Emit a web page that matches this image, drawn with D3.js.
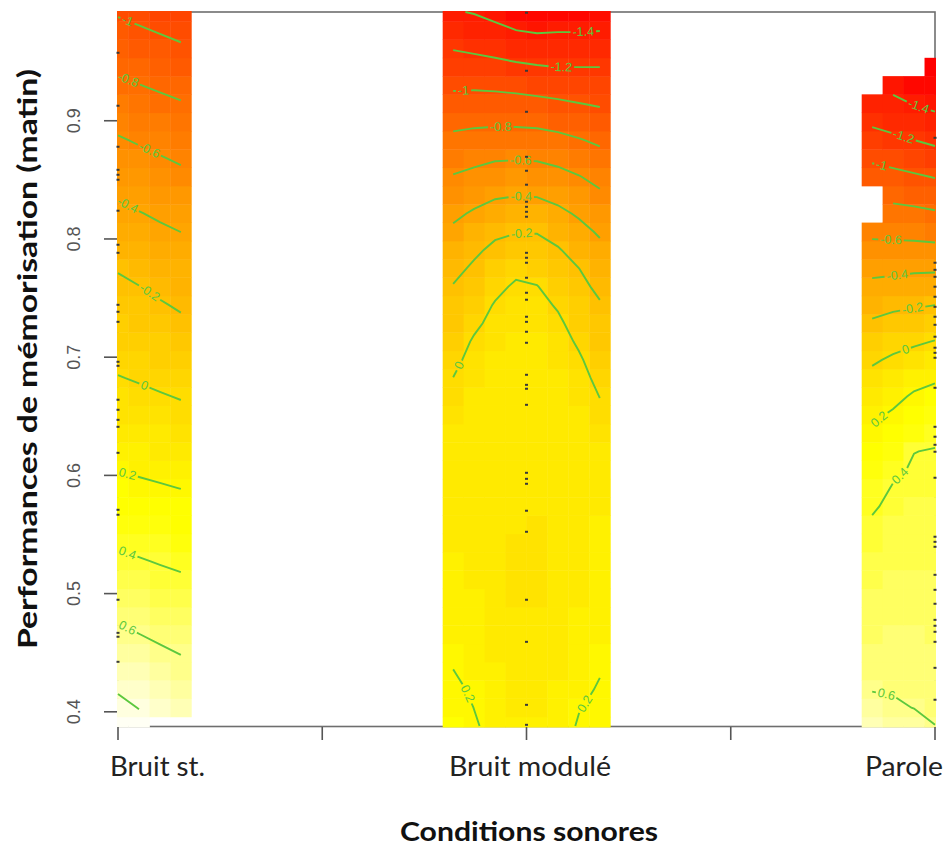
<!DOCTYPE html>
<html><head><meta charset="utf-8">
<script src="https://cdn.jsdelivr.net/npm/d3@7"></script>
<style>body{margin:0;background:#fff} svg{display:block}</style>
</head><body>
<svg id="chart" width="944" height="846"></svg>
<script>
// ---------------- data ----------------
const categories = ["Bruit st.", "Bruit modulé", "Parole"];
const categoryCodes = [1, 2, 3];
const xTicks = [1, 1.5, 2, 2.5, 3];
const yTicks = [0.4, 0.5, 0.6, 0.7, 0.8, 0.9];
const xTitle = "Conditions sonores";
const yTitle = "Performances de mémorisation (matin)";

// evaluation grid (rows bottom -> top)
const yGrid = [0.3880,0.4035,0.4190,0.4345,0.4499,0.4654,0.4809,0.4964,0.5119,0.5274,
  0.5429,0.5584,0.5738,0.5893,0.6048,0.6203,0.6358,0.6513,0.6668,0.6822,
  0.6977,0.7132,0.7287,0.7442,0.7597,0.7752,0.7907,0.8061,0.8216,0.8371,
  0.8526,0.8681,0.8836,0.8991,0.9146,0.9300,0.9455,0.9610,0.9765,0.9920];
const xGridBruitSt = [1.0000, 1.0513, 1.1026, 1.1538];
const xGridModule  = [1.8205, 1.8718, 1.9231, 1.9744, 2.0256, 2.0769, 2.1282, 2.1795];
const xGridParole  = [2.8462, 2.8974, 2.9487, 3.0000];

// fitted surface, one array per grid column (bottom -> top), null = too far from data
const zBruitSt = [
 [0.890,0.839,0.787,0.735,0.684,0.632,0.581,0.531,0.481,0.431,0.382,0.335,0.288,0.241,0.195,0.158,0.120,0.082,0.044,0.006,-0.030,-0.065,-0.101,-0.136,-0.172,-0.210,-0.261,-0.312,-0.363,-0.415,-0.472,-0.528,-0.584,-0.645,-0.707,-0.769,-0.831,-0.893,-0.955,-1.017],
 [0.844,0.796,0.747,0.699,0.651,0.602,0.554,0.506,0.458,0.410,0.364,0.318,0.272,0.226,0.183,0.144,0.105,0.067,0.028,-0.011,-0.048,-0.085,-0.123,-0.160,-0.197,-0.246,-0.295,-0.344,-0.393,-0.448,-0.503,-0.559,-0.616,-0.676,-0.736,-0.796,-0.859,-0.921,-0.983,-1.046],
 [null,0.758,0.712,0.667,0.621,0.575,0.529,0.483,0.437,0.391,0.346,0.301,0.257,0.212,0.170,0.130,0.090,0.050,0.010,-0.029,-0.069,-0.108,-0.147,-0.187,-0.231,-0.279,-0.326,-0.373,-0.424,-0.479,-0.535,-0.590,-0.647,-0.705,-0.763,-0.823,-0.886,-0.949,-1.012,-1.075],
 [null,0.724,0.681,0.638,0.595,0.551,0.506,0.462,0.418,0.374,0.330,0.286,0.242,0.198,0.157,0.116,0.074,0.033,-0.008,-0.050,-0.091,-0.133,-0.175,-0.218,-0.264,-0.309,-0.355,-0.401,-0.456,-0.510,-0.565,-0.620,-0.677,-0.733,-0.789,-0.851,-0.914,-0.978,-1.041,-1.104]
];
const zModule = [
 [0.245,0.230,0.215,0.201,0.190,0.177,0.164,0.154,0.147,0.142,0.139,0.136,0.133,0.128,0.120,0.108,0.090,0.065,0.035,0.002,-0.038,-0.077,-0.115,-0.154,-0.192,-0.248,-0.309,-0.369,-0.436,-0.513,-0.589,-0.673,-0.758,-0.846,-0.938,-1.028,-1.118,-1.207,-1.297,-1.386],
 [0.208,0.199,0.190,0.181,0.170,0.159,0.150,0.143,0.138,0.134,0.131,0.129,0.127,0.125,0.122,0.118,0.112,0.104,0.092,0.075,0.050,0.018,-0.031,-0.078,-0.126,-0.173,-0.232,-0.306,-0.379,-0.463,-0.553,-0.644,-0.738,-0.833,-0.929,-1.027,-1.129,-1.228,-1.319,-1.410],
 [0.177,0.166,0.155,0.144,0.134,0.125,0.118,0.113,0.110,0.109,0.109,0.110,0.112,0.114,0.117,0.119,0.120,0.119,0.115,0.107,0.093,0.072,0.045,0.012,-0.043,-0.102,-0.162,-0.233,-0.327,-0.421,-0.517,-0.615,-0.723,-0.829,-0.931,-1.035,-1.147,-1.253,-1.354,-1.456],
 [0.150,0.139,0.128,0.117,0.107,0.099,0.093,0.089,0.087,0.087,0.088,0.090,0.093,0.097,0.102,0.107,0.112,0.116,0.118,0.117,0.112,0.102,0.085,0.060,0.025,-0.043,-0.125,-0.208,-0.306,-0.406,-0.507,-0.610,-0.721,-0.831,-0.938,-1.050,-1.169,-1.284,-1.399,-1.513],
 [0.149,0.138,0.127,0.116,0.106,0.098,0.092,0.088,0.086,0.086,0.087,0.089,0.092,0.096,0.101,0.106,0.110,0.113,0.114,0.111,0.104,0.092,0.073,0.045,0.006,-0.064,-0.135,-0.208,-0.309,-0.411,-0.513,-0.616,-0.727,-0.839,-0.953,-1.070,-1.188,-1.303,-1.418,-1.532],
 [0.171,0.160,0.149,0.138,0.128,0.119,0.112,0.107,0.104,0.103,0.103,0.104,0.106,0.108,0.111,0.113,0.114,0.113,0.108,0.099,0.083,0.060,0.028,-0.016,-0.072,-0.128,-0.185,-0.267,-0.359,-0.451,-0.545,-0.645,-0.752,-0.862,-0.973,-1.086,-1.201,-1.306,-1.410,-1.515],
 [0.206,0.197,0.187,0.177,0.166,0.155,0.145,0.137,0.131,0.127,0.124,0.122,0.120,0.118,0.115,0.111,0.104,0.093,0.076,0.052,0.020,-0.021,-0.065,-0.110,-0.155,-0.199,-0.272,-0.346,-0.422,-0.507,-0.592,-0.690,-0.789,-0.893,-0.997,-1.099,-1.201,-1.306,-1.410,-1.515],
 [0.223,0.214,0.205,0.197,0.190,0.181,0.172,0.164,0.157,0.151,0.146,0.141,0.135,0.126,0.112,0.092,0.065,0.033,-0.003,-0.040,-0.076,-0.113,-0.150,-0.186,-0.237,-0.297,-0.358,-0.422,-0.497,-0.571,-0.654,-0.741,-0.830,-0.924,-1.018,-1.109,-1.201,-1.303,-1.404,-1.506]
];
const zParole = [
 [0.703,0.642,0.594,0.574,0.554,0.534,0.514,0.494,0.474,0.454,0.434,0.414,0.387,0.346,0.305,0.264,0.222,0.171,0.108,0.045,-0.022,-0.100,-0.178,-0.266,-0.357,-0.450,-0.544,-0.638,null,null,-0.926,-1.026,-1.127,-1.230,-1.330,null,null,null,null,null],
 [0.687,0.621,0.589,0.572,0.556,0.540,0.523,0.507,0.491,0.474,0.458,0.442,0.425,0.409,0.376,0.324,0.271,0.219,0.158,0.091,0.025,-0.055,-0.142,-0.235,-0.339,-0.443,-0.545,-0.645,-0.744,-0.846,-0.950,-1.056,-1.164,-1.263,-1.356,-1.450,null,null,null,null],
 [0.656,0.597,0.583,0.569,0.555,0.541,0.527,0.512,0.498,0.484,0.470,0.456,0.442,0.428,0.414,0.398,0.339,0.280,0.221,0.146,0.063,-0.024,-0.120,-0.218,-0.322,-0.429,-0.544,-0.654,-0.758,-0.867,-0.978,-1.088,-1.199,-1.304,-1.409,-1.513,null,null,null,null],
 [0.601,0.587,0.574,0.561,0.548,0.535,0.522,0.510,0.497,0.484,0.471,0.458,0.445,0.433,0.420,0.407,0.370,0.309,0.248,0.181,0.094,0.007,-0.096,-0.201,-0.312,-0.426,-0.552,-0.669,-0.780,-0.894,-1.008,-1.123,-1.236,-1.347,-1.443,-1.526,-1.610,null,null,null]
];
const contourLevels = [-1.6,-1.4,-1.2,-1,-0.8,-0.6,-0.4,-0.2,0,0.2,0.4,0.6,0.8];

// observed data (performance values) for each condition
const pointsBruitSt = [0.9575,0.9127,0.8780,0.8585,0.8543,0.8501,0.8239,0.7951,0.7883,0.7443,0.7384,0.7299,0.6961,0.6927,0.6640,0.6555,0.6470,0.6411,0.6191,0.5709,0.5667,0.4948,0.4668,0.4635,0.4423];
const pointsModule = [0.9914,0.9423,0.9076,0.8695,0.8577,0.8459,0.8315,0.8272,0.8230,0.8188,0.7883,0.7841,0.7799,0.7672,0.7545,0.7486,0.7342,0.7299,0.7215,0.7122,0.6851,0.6766,0.6733,0.6597,0.6022,0.5971,0.5929,0.5701,0.5523,0.4948,0.4592,0.4059,0.3890];
const pointsParole = [0.8856,0.7799,0.7739,0.7680,0.7596,0.7511,0.7426,0.7342,0.7274,0.7173,0.7080,0.7037,0.6995,0.6741,0.6411,0.6327,0.6259,0.6200,0.5980,0.5481,0.5438,0.5396,0.5159,0.5032,0.4914,0.4778,0.4728,0.4677,0.4592,0.4372,0.4102];

// contour-label placement (fraction along each line)
const labelBlocks = ["bruitSt","bruitSt","bruitSt","bruitSt","bruitSt","bruitSt","bruitSt","bruitSt","bruitSt",
  "module","module","module","module","module","module","module","module","module",
  "parole","parole","parole","parole","parole","parole","parole","parole","parole","parole"];
const labelLevels = [-1,-0.8,-0.6,-0.4,-0.2,0,0.2,0.4,0.6,
  -1.4,-1.2,-1,-0.8,-0.6,-0.4,-0.2,0,0.2,
  -1.4,-1.2,-1,-0.6,-0.4,-0.2,0,0.2,0.4,0.6];
const labelAt = [0.15,0.15,0.5,0.15,0.5,0.42,0.15,0.15,0.15,
  0.88,0.74,0.07,0.32,0.45,0.45,0.45,0.05,0.45,
  0.62,0.5,0.15,0.3,0.4,0.65,0.55,0.12,0.5,0.2];

// ---------------- drawing ----------------
const svg = d3.select("#chart");
const plot = {left:118, right:935, top:12, bottom:726};
const x = d3.scaleLinear().domain([1,3]).range([plot.left, plot.right]);
const y = d3.scaleLinear().domain(d3.extent(yGrid)).range([plot.bottom, plot.top]);

const blocks = [
  {name:"bruitSt", xs:xGridBruitSt, z:zBruitSt},
  {name:"module",  xs:xGridModule,  z:zModule},
  {name:"parole",  xs:xGridParole,  z:zParole}
];

function hsvToHex(h,s,v){
  const f = n => { const k = (n + h*6) % 6; return v - v*s*Math.max(0, Math.min(k, 4-k, 1)); };
  return d3.rgb(Math.round(f(5)*255), Math.round(f(3)*255), Math.round(f(1)*255)).formatHex();
}
function heatColors(n){
  const j = Math.floor(n/4), i = n - j, out = [];
  for (let a=0; a<i; a++) out.push(hsvToHex((i>1 ? a/(i-1) : 0)/6, 1, 1));
  const s0 = 1 - 1/(2*j), s1 = 1/(2*j);
  for (let b=0; b<j; b++) out.push(hsvToHex(1/6, j>1 ? s0 + b*(s1-s0)/(j-1) : s0, 1));
  return out;
}
const allZ = blocks.flatMap(b => b.z.flat()).filter(v => v !== null);
const zlim = d3.extent(allZ);
const color = d3.scaleQuantize().domain(zlim).range(heatColors(50));

// box (drawn first, the image covers it)
svg.append("rect").attr("x", plot.left).attr("y", plot.top)
  .attr("width", plot.right-plot.left).attr("height", plot.bottom-plot.top+0.5)
  .attr("fill","none").attr("stroke","#6e6e6e").attr("stroke-width",1.6);

svg.append("clipPath").attr("id","plotclip").append("rect")
  .attr("x", plot.left-1).attr("y", plot.top-1)
  .attr("width", plot.right-plot.left+2).attr("height", plot.bottom-plot.top+2.5);

const gImg = svg.append("g").attr("clip-path","url(#plotclip)");
const hx = (xGridModule[1]-xGridModule[0])/2;
const hy = (yGrid[1]-yGrid[0])/2;
const cells = [];
blocks.forEach(b => b.z.forEach((col, c) => col.forEach((v, k) => {
  if (v !== null) cells.push({xv:b.xs[c], yv:yGrid[k], z:v});
})));
gImg.selectAll("rect.cell").data(cells).join("rect").attr("class","cell")
  .attr("x", d => x(d.xv - hx)).attr("y", d => y(d.yv + hy))
  .attr("width", d => x(d.xv + hx) - x(d.xv - hx) + 0.4)
  .attr("height", d => y(d.yv - hy) - y(d.yv + hy) + 0.4)
  .attr("fill", d => color(d.z));

// marching squares isolines
function isolines(xs, z, level){
  const nc = xs.length, nr = yGrid.length, segs = [];
  const pt = (key) => {
    const [t, c, k] = key.split(",").map((s,i)=> i===0 ? s : +s);
    if (t === "h") { const a = z[c][k], b = z[c+1][k], f = (level-a)/(b-a); return [xs[c] + f*(xs[c+1]-xs[c]), yGrid[k]]; }
    const a = z[c][k], b = z[c][k+1], f = (level-a)/(b-a); return [xs[c], yGrid[k] + f*(yGrid[k+1]-yGrid[k])];
  };
  for (let c=0; c<nc-1; c++) for (let k=0; k<nr-1; k++){
    const v00=z[c][k], v10=z[c+1][k], v01=z[c][k+1], v11=z[c+1][k+1];
    if (v00===null||v10===null||v01===null||v11===null) continue;
    const f00=v00>level, f10=v10>level, f01=v01>level, f11=v11>level;
    const eB=`h,${c},${k}`, eT=`h,${c},${k+1}`, eL=`v,${c},${k}`, eR=`v,${c+1},${k}`;
    const cr = [];
    if (f00!==f10) cr.push(eB);
    if (f10!==f11) cr.push(eR);
    if (f01!==f11) cr.push(eT);
    if (f00!==f01) cr.push(eL);
    if (cr.length === 2) segs.push(cr);
    else if (cr.length === 4) {
      const fc = (v00+v10+v01+v11)/4 > level;
      if (f00!==fc) segs.push([eB,eL]);
      if (f10!==fc) segs.push([eB,eR]);
      if (f11!==fc) segs.push([eR,eT]);
      if (f01!==fc) segs.push([eT,eL]);
    }
  }
  const byEdge = new Map();
  segs.forEach((s,i) => s.forEach(e => { if(!byEdge.has(e)) byEdge.set(e,[]); byEdge.get(e).push(i); }));
  const used = new Array(segs.length).fill(false), lines = [];
  function walk(startSeg, startEdge){
    const keys = [startEdge]; let seg = startSeg, edge = startEdge;
    while (seg !== undefined && !used[seg]) {
      used[seg] = true;
      const other = segs[seg][0] === edge ? segs[seg][1] : segs[seg][0];
      keys.push(other);
      const nxt = (byEdge.get(other)||[]).find(i => !used[i]);
      seg = nxt; edge = other;
    }
    return keys.map(pt);
  }
  byEdge.forEach((list, e) => { if (list.length === 1 && !used[list[0]]) lines.push(walk(list[0], e)); });
  segs.forEach((s,i) => { if (!used[i]) lines.push(walk(i, s[0])); });
  return lines;
}

const green = "#5CC83E";
const lineW = 1.9;
const gCon = svg.append("g").attr("clip-path","url(#plotclip)");
const lineGen = d3.line();
function cum(p){ const c=[0]; for(let i=1;i<p.length;i++) c.push(c[i-1]+Math.hypot(p[i][0]-p[i-1][0], p[i][1]-p[i-1][1])); return c; }
function at(p,c,s){
  s = Math.max(0, Math.min(c[c.length-1], s));
  for (let i=0;i<p.length-1;i++) if (s <= c[i+1]) { const t = (c[i+1]-c[i]) ? (s-c[i])/(c[i+1]-c[i]) : 0;
    return [p[i][0]+t*(p[i+1][0]-p[i][0]), p[i][1]+t*(p[i+1][1]-p[i][1])]; }
  return p[p.length-1];
}
function slice(p,c,s0,s1){
  if (s1 - s0 <= 0.5) return null;
  const out=[at(p,c,s0)];
  for (let i=0;i<p.length;i++) if (c[i]>s0 && c[i]<s1) out.push(p[i]);
  out.push(at(p,c,s1)); return out;
}
const fmt = v => String(Math.round(v*10)/10);

blocks.forEach(b => {
  contourLevels.forEach(level => {
    const lines = isolines(b.xs, b.z, level);
    lines.forEach(line => {
      let p = line.map(d => [x(d[0]), y(d[1])]);
      if (p[0][0] > p[p.length-1][0]) p.reverse();
      const c = cum(p), L = c[c.length-1];
      let li = -1;
      for (let i=0;i<labelBlocks.length;i++) if (labelBlocks[i]===b.name && Math.abs(labelLevels[i]-level)<1e-9) li = i;
      if (li < 0 || L < 15) {
        gCon.append("path").attr("d", lineGen(p)).attr("fill","none").attr("stroke",green).attr("stroke-width",lineW);
        return;
      }
      const txt = gCon.append("text").text(fmt(level))
        .attr("font-family","'Liberation Sans', Arial, sans-serif").attr("font-size",12.5)
        .attr("fill",green).attr("text-anchor","middle").attr("dominant-baseline","central");
      const w = txt.node().getComputedTextLength();
      let s0 = labelAt[li]*L;
      s0 = Math.max(w/2, Math.min(L - w/2, s0));
      const a = at(p,c,s0-w/2), bb = at(p,c,s0+w/2), m = at(p,c,s0);
      let ang = Math.atan2(bb[1]-a[1], bb[0]-a[0])*180/Math.PI;
      if (ang > 90) ang -= 180; if (ang < -90) ang += 180;
      txt.attr("transform", `translate(${m[0]},${m[1]}) rotate(${ang})`);
      [slice(p,c,0,s0-w/2-2), slice(p,c,s0+w/2+2,L)].forEach(part => {
        if (part) gCon.append("path").attr("d", lineGen(part)).attr("fill","none").attr("stroke",green).attr("stroke-width",lineW);
      });
    });
  });
});

// data points
const pts = [
  ...pointsBruitSt.map(v => ({xv:categoryCodes[0], yv:v})),
  ...pointsModule.map(v => ({xv:categoryCodes[1], yv:v})),
  ...pointsParole.map(v => ({xv:categoryCodes[2], yv:v}))
];
svg.append("g").selectAll("rect").data(pts).join("rect")
  .attr("x", d => x(d.xv)-1.5).attr("y", d => y(d.yv)-1)
  .attr("width",3).attr("height",2).attr("fill","#3a3a3a");

// axes
const gAx = svg.append("g").attr("stroke","#555").attr("stroke-width",1.6);
xTicks.forEach(t => gAx.append("line").attr("x1",x(t)).attr("x2",x(t)).attr("y1",plot.bottom+1).attr("y2",plot.bottom+14));
yTicks.forEach(t => gAx.append("line").attr("x1",plot.left-14).attr("x2",plot.left-1).attr("y1",y(t)).attr("y2",y(t)));

svg.append("g").selectAll("text").data(yTicks).join("text")
  .attr("transform", d => `translate(80,${y(d)}) rotate(-90)`)
  .attr("text-anchor","middle")
  .attr("font-family","'Liberation Sans', Arial, sans-serif").attr("font-size",18)
  .attr("fill","#555").text(d => d3.format(".1f")(d));

const xLabelStart = [110, 449, 865];
const xLabelLen = [95, 162, 78];
svg.append("g").selectAll("text").data(categories).join("text")
  .attr("x", (d,i) => xLabelStart[i]).attr("y", 776)
  .attr("font-family","Lato, 'Open Sans', sans-serif").attr("font-size",26)
  .attr("fill","#222").attr("textLength",(d,i)=>xLabelLen[i]).attr("lengthAdjust","spacingAndGlyphs")
  .text(d => d);

svg.append("text").attr("x",529).attr("y",841).attr("text-anchor","middle")
  .attr("font-family","Lato, 'Open Sans', sans-serif").attr("font-weight","bold").attr("font-size",27)
  .attr("fill","#111").attr("textLength",258).attr("lengthAdjust","spacingAndGlyphs").text(xTitle);

svg.append("text").attr("transform","translate(37,359) rotate(-90)").attr("text-anchor","middle")
  .attr("font-family","Lato, 'Open Sans', sans-serif").attr("font-weight","bold").attr("font-size",26)
  .attr("fill","#111").attr("textLength",580).attr("lengthAdjust","spacingAndGlyphs").text(yTitle);
</script>
</body></html>
